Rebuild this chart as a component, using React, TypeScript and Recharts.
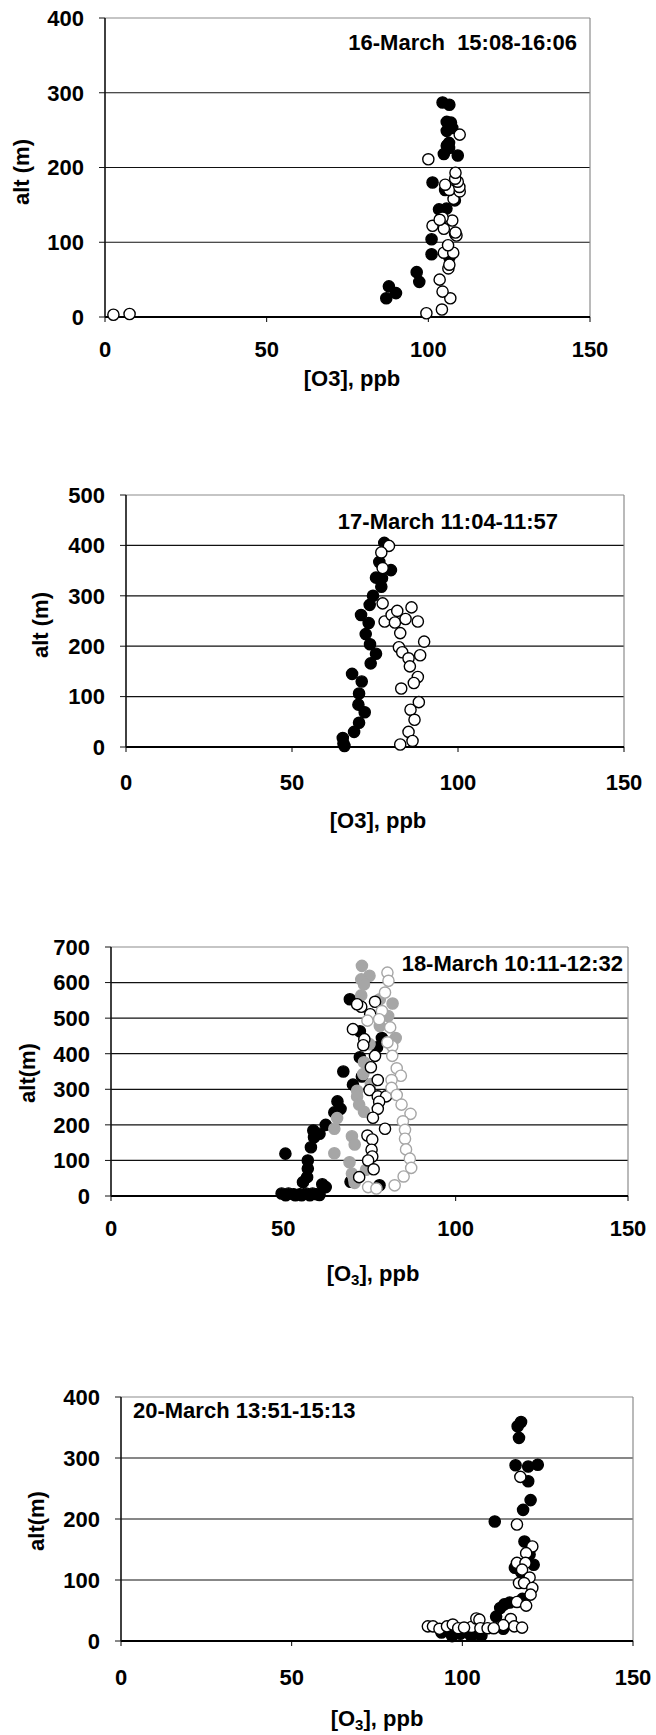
import React from "react";
import { ScatterChart, Scatter, XAxis, YAxis, ReferenceLine } from "recharts";

type Pair = [number, number]; // [O3 ppb, altitude m]

const o3Ticks = [0, 50, 100, 150];
const altTicks16 = [0, 100, 200, 300, 400];
const altTicks17 = [0, 100, 200, 300, 400, 500];
const altTicks18 = [0, 100, 200, 300, 400, 500, 600, 700];
const altTicks20 = [0, 100, 200, 300, 400];

// 16 March 15:08-16:06
const up16: Pair[] = [
  [104.4, 287], [106.5, 284], [105.7, 261], [107, 260], [107.4, 253], [105.7, 249],
  [106.4, 233], [105.7, 229], [106.4, 226], [104.8, 218], [109.1, 216], [101.3, 180],
  [105.2, 170], [103.3, 144], [105.6, 145], [101, 104], [101, 84], [106.5, 80],
  [96.4, 60], [97.2, 47], [87.8, 41], [90, 32], [87, 25], [108.2, 156], [108.3, 111],
];
const down16: Pair[] = [
  [2.6, 3], [7.6, 4], [99.4, 5], [104.2, 10], [106.8, 25], [104.4, 34], [103.5, 50],
  [106.2, 65], [106.5, 70], [104.8, 86], [107.7, 86], [106.1, 96], [108.7, 109],
  [108.4, 113], [104.8, 118], [101.3, 122], [107.4, 129], [104.4, 133], [103.5, 130],
  [107.8, 158], [106.5, 170], [105.2, 177], [109.7, 168], [109.6, 174], [109.1, 181],
  [108.3, 185], [108.4, 193], [100, 211], [109.7, 244],
];

// 17 March 11:04-11:57
const up17: Pair[] = [
  [77.8, 405], [76.3, 367], [79.8, 351], [75.3, 336], [77.1, 335], [76.9, 318],
  [74.4, 300], [73.4, 282], [70.8, 262], [73.1, 246], [72.2, 224], [73.5, 204],
  [75.3, 185], [73.7, 166], [68.1, 145], [71, 130], [70.2, 106], [70, 84], [71.9, 69],
  [70.2, 48], [68.7, 30], [65.3, 18], [65.5, 7], [65.8, 2],
];
const down17: Pair[] = [
  [79.2, 399], [76.9, 386], [77.3, 355], [77.3, 285], [77.9, 249], [80, 262], [81.7, 270],
  [81, 247], [84.2, 254], [86, 277], [87.9, 249], [82.6, 226], [89.8, 209], [82.2, 198],
  [83.2, 188], [85.1, 176], [85.5, 160], [88.6, 182], [87.9, 139], [86.7, 127],
  [82.9, 116], [88.2, 89], [85.7, 74], [86.9, 54], [85.1, 30], [86.3, 12], [82.6, 5],
];

// 18 March 10:11-12:32, two flights
const up18a: Pair[] = [
  [69.3, 553], [72.2, 463], [78.6, 444], [77.2, 418], [72.2, 390], [67.4, 350],
  [72.8, 336], [70.2, 313], [65.7, 266], [66.6, 245], [64.8, 235], [62.3, 200],
  [58.7, 184], [60.5, 175], [58.9, 165], [58, 137], [50.6, 119], [57.1, 100], [57.1, 77],
  [56.9, 53], [55.7, 39], [61.3, 33], [62.3, 25], [60.5, 3], [49.5, 7], [51.5, 7],
  [53, 5], [54.8, 5], [56.6, 7], [58.5, 7], [59.7, 5], [50.7, 2], [53.5, 2], [55.3, 2],
  [57.7, 2], [77.9, 30], [69.5, 40],
];
const up18b: Pair[] = [
  [72.8, 647], [75, 619], [72.6, 609], [73.4, 595], [72.6, 564], [78, 553], [81.7, 541],
  [80.4, 506], [78, 478], [82.6, 444], [75, 427], [73.4, 376], [73.2, 343], [75.4, 315],
  [71.4, 296], [71.4, 280], [72, 257], [73.4, 237], [65.6, 219], [64.8, 189], [69.9, 168],
  [70.7, 145], [64.8, 120], [69.2, 95], [69.9, 63], [70.5, 49], [70.7, 37], [74, 74],
];
const down18a: Pair[] = [
  [76.6, 546], [72.6, 532], [71.4, 539], [75.2, 511], [70.2, 469], [73.5, 441],
  [73.2, 424], [76.6, 394], [75.4, 362], [77.4, 326], [75, 298], [77.4, 280], [79.8, 280],
  [77.8, 265], [77.4, 245], [76, 220], [79.5, 189], [74.4, 170], [75.8, 159], [75.6, 130],
  [75.8, 111], [74.6, 100], [76.2, 75], [72, 53],
];
const down18b: Pair[] = [
  [80.2, 628], [80.5, 605], [79.5, 572], [78.6, 520], [77.8, 497], [74.4, 493], [81, 474],
  [81.6, 421], [80.2, 432], [81.6, 394], [82.9, 359], [84.1, 338], [81.4, 326],
  [81.4, 304], [82.9, 284], [84.3, 257], [86.9, 231], [84.7, 210], [85.3, 186],
  [85.3, 161], [85.6, 131], [86.7, 105], [87.1, 79], [84.9, 55], [82.3, 30], [74.6, 25],
  [77, 21],
];

// 20 March 13:51-15:13
const up20: Pair[] = [
  [117.2, 359], [116.2, 352], [116.6, 333], [115.6, 288], [119.3, 286], [122.1, 289],
  [119.3, 262], [120, 231], [117.8, 215], [109.5, 196], [118.2, 163], [119.7, 142],
  [120.9, 125], [115.4, 120], [117.2, 113], [117.6, 69], [113.9, 63], [112.3, 60],
  [111.1, 54], [109.9, 40], [112, 20], [93.9, 14], [97, 8], [99.4, 12], [102.5, 9],
  [103.7, 12], [105.6, 9], [96, 18], [101, 15],
];
const down20: Pair[] = [
  [117, 269], [116, 191], [120.5, 155], [118.7, 144], [116, 128], [118.5, 128],
  [117.5, 117], [119.7, 104], [116.6, 95], [118.1, 95], [120.5, 87], [120, 76], [116, 64],
  [118.7, 58], [114.2, 36], [115.2, 24], [112, 26], [117.5, 22], [89.9, 24], [91.4, 24],
  [93.3, 20], [95.5, 24], [97.2, 27], [98.8, 21], [102.7, 23], [104.1, 37], [105, 35],
  [105.3, 21], [107.4, 21], [109.2, 21], [100.5, 22],
];

const FONT = '"Liberation Sans", Arial, sans-serif';
const BLACK = "#000";
const GREY = "#a6a6a6";

const toPoints = (pairs: Pair[]) => pairs.map(([o3, alt]) => ({ o3, alt }));

const marker = (fill: string, stroke: string) => (props: any) => (
  <circle cx={props.cx} cy={props.cy} r={5.6} fill={fill} stroke={stroke} strokeWidth={1.4} />
);

type Series = { name: string; data: Pair[]; fill: string; stroke: string };

type PanelProps = {
  top: number;
  height: number;
  plot: { top: number; bottom: number; left: number; right: number };
  altTicks: number[];
  series: Series[];
  stamp: string;
  stampX: number;
  stampY: number;
  stampAnchor: "start" | "end";
  yTitle: string;
  yTitleX: number;
  yTitleY: number;
  xTitleX: number;
  xTitleY: number;
  subscript: boolean;
  labelGap: number;
};

function Panel(p: PanelProps) {
  const altMax = p.altTicks[p.altTicks.length - 1];
  const gridAlts = p.altTicks.slice(1, -1);
  const tickFont = { fontSize: 22, fontWeight: 700, fill: BLACK, fontFamily: FONT };
  return (
    <div style={{ position: "absolute", left: 0, top: p.top }}>
      <ScatterChart
        width={656}
        height={p.height}
        margin={{ top: p.plot.top, right: 656 - p.plot.right, bottom: 0, left: 0 }}
      >
        {gridAlts.map((v) => (
          <ReferenceLine key={v} y={v} stroke="#111" strokeWidth={1.2} />
        ))}
        <ReferenceLine y={altMax} stroke="#8c8c8c" strokeWidth={1.2} />
        <ReferenceLine x={150} stroke="#8c8c8c" strokeWidth={1.2} />
        <XAxis
          type="number"
          dataKey="o3"
          domain={[0, 150]}
          ticks={o3Ticks}
          interval={0}
          height={p.height - p.plot.bottom}
          tickSize={5}
          tickMargin={p.labelGap - 13}
          axisLine={{ stroke: BLACK, strokeWidth: 2.2 }}
          tickLine={{ stroke: BLACK }}
          tick={tickFont}
        />
        <YAxis
          type="number"
          dataKey="alt"
          domain={[0, altMax]}
          ticks={p.altTicks}
          interval={0}
          width={p.plot.left}
          tickSize={6}
          tickMargin={15}
          axisLine={{ stroke: "#111", strokeWidth: 1.6 }}
          tickLine={{ stroke: "#111" }}
          tick={tickFont}
        />
        {p.series.map((s) => (
          <Scatter
            key={s.name}
            name={s.name}
            data={toPoints(s.data)}
            shape={marker(s.fill, s.stroke)}
            isAnimationActive={false}
          />
        ))}
        <text
          x={p.stampX}
          y={p.stampY}
          textAnchor={p.stampAnchor}
          dominantBaseline="central"
          fontFamily={FONT}
          fontWeight={700}
          fontSize={22}
          fill={BLACK}
          style={{ whiteSpace: "pre" }}
        >
          {p.stamp}
        </text>
        <text
          x={p.xTitleX}
          y={p.xTitleY}
          textAnchor="middle"
          dominantBaseline="central"
          fontFamily={FONT}
          fontWeight={700}
          fontSize={22}
          fill={BLACK}
        >
          {p.subscript ? (
            <>
              <tspan>[O</tspan>
              <tspan dy={6} fontSize={15}>3</tspan>
              <tspan dy={-6}>], ppb</tspan>
            </>
          ) : (
            "[O3], ppb"
          )}
        </text>
        <text
          x={p.yTitleX}
          y={p.yTitleY}
          transform={`rotate(-90 ${p.yTitleX} ${p.yTitleY})`}
          textAnchor="middle"
          dominantBaseline="central"
          fontFamily={FONT}
          fontWeight={700}
          fontSize={22}
          fill={BLACK}
        >
          {p.yTitle}
        </text>
      </ScatterChart>
    </div>
  );
}

export default function App() {
  return (
    <div style={{ position: "absolute", left: 0, top: 0, width: 656, height: 1735, background: "#fff" }}>
      <Panel
        top={0}
        height={440}
        plot={{ top: 18, bottom: 317, left: 105, right: 590 }}
        altTicks={altTicks16}
        series={[
          { name: "up16", data: up16, fill: BLACK, stroke: BLACK },
          { name: "down16", data: down16, fill: "#fff", stroke: BLACK },
        ]}
        stamp={"16-March  15:08-16:06"}
        stampX={577}
        stampY={42}
        stampAnchor="end"
        yTitle="alt (m)"
        yTitleX={21}
        yTitleY={172}
        xTitleX={352}
        xTitleY={378}
        subscript={false}
        labelGap={32}
      />
      <Panel
        top={440}
        height={460}
        plot={{ top: 55, bottom: 307, left: 126, right: 624 }}
        altTicks={altTicks17}
        series={[
          { name: "up17", data: up17, fill: BLACK, stroke: BLACK },
          { name: "down17", data: down17, fill: "#fff", stroke: BLACK },
        ]}
        stamp="17-March 11:04-11:57"
        stampX={558}
        stampY={81}
        stampAnchor="end"
        yTitle="alt (m)"
        yTitleX={40}
        yTitleY={185}
        xTitleX={378}
        xTitleY={380}
        subscript={false}
        labelGap={35}
      />
      <Panel
        top={900}
        height={440}
        plot={{ top: 47, bottom: 296, left: 111, right: 628 }}
        altTicks={altTicks18}
        series={[
          { name: "up18a", data: up18a, fill: BLACK, stroke: BLACK },
          { name: "up18b", data: up18b, fill: GREY, stroke: GREY },
          { name: "down18a", data: down18a, fill: "#fff", stroke: BLACK },
          { name: "down18b", data: down18b, fill: "#fff", stroke: GREY },
        ]}
        stamp="18-March 10:11-12:32"
        stampX={623}
        stampY={63}
        stampAnchor="end"
        yTitle="alt(m)"
        yTitleX={27}
        yTitleY={173}
        xTitleX={373}
        xTitleY={373}
        subscript={true}
        labelGap={32}
      />
      <Panel
        top={1340}
        height={395}
        plot={{ top: 57, bottom: 301, left: 121, right: 633 }}
        altTicks={altTicks20}
        series={[
          { name: "up20", data: up20, fill: BLACK, stroke: BLACK },
          { name: "down20", data: down20, fill: "#fff", stroke: BLACK },
        ]}
        stamp="20-March 13:51-15:13"
        stampX={133}
        stampY={70}
        stampAnchor="start"
        yTitle="alt(m)"
        yTitleX={36}
        yTitleY={181}
        xTitleX={377}
        xTitleY={378}
        subscript={true}
        labelGap={36}
      />
    </div>
  );
}
